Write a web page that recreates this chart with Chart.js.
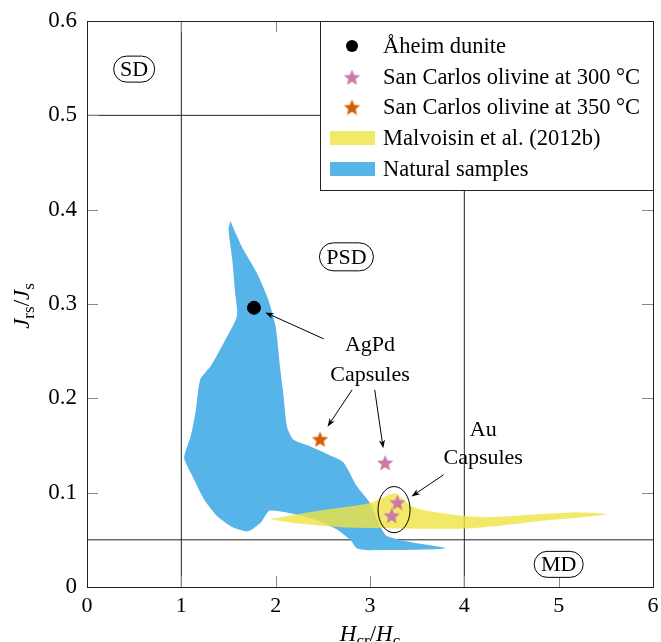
<!DOCTYPE html>
<html>
<head>
<meta charset="utf-8">
<script src="https://cdn.jsdelivr.net/npm/chart.js@4.4.1/dist/chart.umd.min.js"></script>
<style>
  html, body { margin: 0; padding: 0; background: #fff; }
  #wrap { width: 661px; height: 642px; }
</style>
</head>
<body>
<div id="wrap"><canvas id="grafico"></canvas></div>
<script>
// ===== DADOS =====
const aheimDunite = [{ x: 1.77, y: 0.296 }];
const sanCarlos300 = [{ x: 3.16, y: 0.132 }, { x: 3.29, y: 0.090 }, { x: 3.23, y: 0.076 }];
const sanCarlos350 = [{ x: 2.47, y: 0.157 }];

// contorno do campo de Malvoisin et al. (2012b)
const malvoisinX = [1.94, 2.47, 3.00, 3.16, 3.27, 3.35, 3.45, 3.59, 3.85, 4.20, 4.91, 5.26, 5.51, 5.26, 4.91, 4.38, 3.99, 3.32, 2.76, 2.26, 2.05];
const malvoisinY = [0.072, 0.081, 0.089, 0.096, 0.099, 0.093, 0.085, 0.081, 0.077, 0.074, 0.078, 0.079, 0.077, 0.074, 0.071, 0.065, 0.062, 0.062, 0.063, 0.067, 0.070];

// contorno das amostras naturais
const naturalX = [1.52, 1.64, 1.80, 1.92, 2.00, 2.05, 2.08, 2.12, 2.19, 2.37, 2.61, 2.72, 2.86, 3.00, 3.18, 3.80, 2.97, 2.86, 2.79, 2.65, 2.37, 1.94, 1.84, 1.71, 1.55, 1.38, 1.24, 1.10, 1.03, 1.10, 1.15, 1.20, 1.31, 1.45, 1.59, 1.57, 1.54, 1.50];
const naturalY = [0.388, 0.361, 0.333, 0.305, 0.276, 0.230, 0.206, 0.170, 0.156, 0.149, 0.138, 0.132, 0.107, 0.089, 0.054, 0.041, 0.039, 0.041, 0.050, 0.061, 0.073, 0.081, 0.068, 0.059, 0.063, 0.075, 0.093, 0.121, 0.137, 0.160, 0.185, 0.220, 0.234, 0.259, 0.287, 0.312, 0.347, 0.379];

// linhas que separam os domínios SD / PSD / MD
const linhasVerticais = [1, 4];
const linhasHorizontais = [0.05, 0.5];

const xTicks = [0, 1, 2, 3, 4, 5, 6];
const xTickLabels = ['0', '1', '2', '3', '4', '5', '6'];
const yTicks = [0, 0.1, 0.2, 0.3, 0.4, 0.5, 0.6];
const yTickLabels = ['0', '0.1', '0.2', '0.3', '0.4', '0.5', '0.6'];

const legendLabels = ['Åheim dunite', 'San Carlos olivine at 300 °C', 'San Carlos olivine at 350 °C', 'Malvoisin et al. (2012b)', 'Natural samples'];

// ===== CORES / FONTES =====
const AZUL = '#56B4E9';
const AMARELO = 'rgba(240, 228, 66, 0.8)';
const ROSA = '#CC79A7';
const LARANJA = '#D55E00';
const FONTE = '"Liberation Serif", "Times New Roman", serif';

function fecha(xs, ys) {
    const pts = xs.map((x, i) => ({ x: x, y: ys[i] }));
    pts.push(pts[0]);
    return pts;
}

// estrela cheia (o 'star' do Chart.js é só contorno)
function estrela(cor, r) {
    const c = document.createElement('canvas');
    const s = Math.ceil(r * 2 + 2);
    c.width = s; c.height = s;
    const g = c.getContext('2d');
    g.fillStyle = cor;
    g.beginPath();
    for (let i = 0; i < 10; i++) {
        const rad = i % 2 === 0 ? r : r * 0.45;
        const a = -Math.PI / 2 + i * Math.PI / 5;
        g.lineTo(s / 2 + rad * Math.cos(a), s / 2 + 1 + rad * Math.sin(a));
    }
    g.closePath();
    g.fill();
    return c;
}
const estrelaRosa = estrela(ROSA, 8.5);
const estrelaLaranja = estrela(LARANJA, 8.5);

// texto com índices (H_cr / H_c)
function textoRico(ctx, partes, x, y, size) {
    const fonteDe = p => (p[1] === 'i' ? 'italic ' : '') + (p[1] === 's' ? Math.round(size * 0.72) : size) + 'px ' + FONTE;
    let w = 0;
    partes.forEach(p => { ctx.font = fonteDe(p); w += ctx.measureText(p[0]).width; });
    let cx = x - w / 2;
    ctx.textAlign = 'left';
    ctx.textBaseline = 'alphabetic';
    partes.forEach(p => {
        ctx.font = fonteDe(p);
        ctx.fillText(p[0], cx, p[1] === 's' ? y + size * 0.2 : y);
        cx += ctx.measureText(p[0]).width;
    });
}

function caixaRotulo(ctx, txt, cx, cy, w, h) {
    ctx.save();
    ctx.beginPath();
    ctx.roundRect(cx - w / 2, cy - h / 2, w, h, h / 2);
    ctx.fillStyle = '#fff';
    ctx.fill();
    ctx.strokeStyle = '#000';
    ctx.lineWidth = 1;
    ctx.stroke();
    ctx.fillStyle = '#000';
    ctx.font = '22px ' + FONTE;
    ctx.textAlign = 'center';
    ctx.textBaseline = 'middle';
    ctx.fillText(txt, cx, cy + 1);
    ctx.restore();
}

function seta(ctx, x1, y1, x2, y2) {
    const a = Math.atan2(y2 - y1, x2 - x1);
    ctx.beginPath();
    ctx.moveTo(x1, y1);
    ctx.lineTo(x2 - 5 * Math.cos(a), y2 - 5 * Math.sin(a));
    ctx.stroke();
    ctx.beginPath();
    ctx.moveTo(x2, y2);
    ctx.lineTo(x2 - 9 * Math.cos(a - 0.35), y2 - 9 * Math.sin(a - 0.35));
    ctx.lineTo(x2 - 6 * Math.cos(a), y2 - 6 * Math.sin(a));
    ctx.lineTo(x2 - 9 * Math.cos(a + 0.35), y2 - 9 * Math.sin(a + 0.35));
    ctx.closePath();
    ctx.fill();
}

// anotações (em coordenadas de dados)
const setas = [
    [2.51, 0.263, 1.89, 0.291],
    [2.81, 0.209, 2.55, 0.170],
    [3.05, 0.209, 3.14, 0.147],
    [3.78, 0.119, 3.44, 0.096]
];
const textos = [
    ['AgPd', 3.00, 0.256], ['Capsules', 3.00, 0.225],
    ['Au', 4.20, 0.166], ['Capsules', 4.20, 0.137]
];
const rotulos = [
    ['SD', 0.50, 0.549, 41, 26], ['PSD', 2.75, 0.350, 54, 28], ['MD', 5.00, 0.024, 49, 26]
];

const anotacoes = {
    id: 'anotacoes',
    afterDatasetsDraw(chart) {
        const ctx = chart.ctx;
        const xs = chart.scales.x, ys = chart.scales.y;
        const a = chart.chartArea;
        ctx.save();

        // moldura e ticks para dentro
        ctx.strokeStyle = '#888';
        ctx.lineWidth = 1;
        xTicks.forEach(v => {
            const px = Math.round(xs.getPixelForValue(v)) + 0.5;
            ctx.beginPath();
            ctx.moveTo(px, a.bottom); ctx.lineTo(px, a.bottom - 11);
            ctx.moveTo(px, a.top); ctx.lineTo(px, a.top + 11);
            ctx.stroke();
        });
        yTicks.forEach(v => {
            const py = Math.round(ys.getPixelForValue(v)) + 0.5;
            ctx.beginPath();
            ctx.moveTo(a.left, py); ctx.lineTo(a.left + 11, py);
            ctx.moveTo(a.right, py); ctx.lineTo(a.right - 11, py);
            ctx.stroke();
        });
        ctx.strokeStyle = '#222';
        ctx.strokeRect(Math.round(a.left) + 0.5, Math.round(a.top) + 0.5, Math.round(a.right - a.left), Math.round(a.bottom - a.top));

        // setas
        ctx.strokeStyle = '#000';
        ctx.fillStyle = '#000';
        ctx.lineWidth = 1;
        setas.forEach(s => seta(ctx, xs.getPixelForValue(s[0]), ys.getPixelForValue(s[1]), xs.getPixelForValue(s[2]), ys.getPixelForValue(s[3])));

        // elipse em volta das cápsulas de Au
        const ex = xs.getPixelForValue(3.255), ey = ys.getPixelForValue(0.082);
        ctx.beginPath();
        ctx.ellipse(ex, ey, xs.getPixelForValue(3.255 + 0.17) - ex, ey - ys.getPixelForValue(0.082 + 0.0245), 0, 0, Math.PI * 2);
        ctx.stroke();

        ctx.font = '22px ' + FONTE;
        ctx.textAlign = 'center';
        ctx.textBaseline = 'middle';
        textos.forEach(t => ctx.fillText(t[0], xs.getPixelForValue(t[1]), ys.getPixelForValue(t[2])));

        rotulos.forEach(r => caixaRotulo(ctx, r[0], xs.getPixelForValue(r[1]), ys.getPixelForValue(r[2]), r[3], r[4]));

        // títulos dos eixos
        ctx.fillStyle = '#000';
        textoRico(ctx, [['H', 'i'], ['cr', 's'], ['/', 'r'], ['H', 'i'], ['c', 's']], xs.getPixelForValue(3), 641, 23);
        ctx.save();
        ctx.translate(29, (a.top + a.bottom) / 2 + 2);
        ctx.rotate(-Math.PI / 2);
        textoRico(ctx, [['J', 'i'], ['rs', 's'], ['/', 'r'], ['J', 'i'], ['s', 's']], 0, 0, 23);
        ctx.restore();

        // ===== legenda =====
        const lx = 320, ly = a.top, lw = a.right - 320, lh = 169;
        ctx.fillStyle = '#fff';
        ctx.fillRect(lx, ly, lw, lh);
        ctx.strokeStyle = '#222';
        ctx.strokeRect(lx + 0.5, Math.round(ly) + 0.5, Math.round(lw), lh);

        const linhaY = [46, 77, 107, 138, 169];
        ctx.fillStyle = '#000';
        ctx.beginPath();
        ctx.arc(352, linhaY[0], 6, 0, Math.PI * 2);
        ctx.fill();
        ctx.drawImage(estrelaRosa, 352 - estrelaRosa.width / 2, linhaY[1] - estrelaRosa.height / 2);
        ctx.drawImage(estrelaLaranja, 352 - estrelaLaranja.width / 2, linhaY[2] - estrelaLaranja.height / 2);
        ctx.fillStyle = AMARELO;
        ctx.fillRect(330, linhaY[3] - 7, 45, 14);
        ctx.fillStyle = AZUL;
        ctx.fillRect(330, linhaY[4] - 7, 45, 14);

        ctx.fillStyle = '#000';
        ctx.font = '22.5px ' + FONTE;
        ctx.textAlign = 'left';
        ctx.textBaseline = 'middle';
        legendLabels.forEach((t, i) => ctx.fillText(t, 383, linhaY[i] + 1));

        ctx.restore();
    }
};

// ===== datasets =====
const datasets = [];
linhasVerticais.forEach(v => datasets.push({
    data: [{ x: v, y: 0 }, { x: v, y: 0.6 }],
    showLine: true, borderColor: '#222', borderWidth: 1, pointRadius: 0, order: 10
}));
linhasHorizontais.forEach(v => datasets.push({
    data: [{ x: 0, y: v }, { x: 6, y: v }],
    showLine: true, borderColor: '#222', borderWidth: 1, pointRadius: 0, order: 10
}));
datasets.push({
    label: legendLabels[4],
    data: fecha(naturalX, naturalY),
    showLine: true, fill: 'shape', tension: 0.2,
    backgroundColor: AZUL, borderColor: AZUL, borderWidth: 0, pointRadius: 0, order: 6
});
datasets.push({
    label: legendLabels[3],
    data: fecha(malvoisinX, malvoisinY),
    showLine: true, fill: 'shape', tension: 0.3,
    backgroundColor: AMARELO, borderColor: 'rgba(0,0,0,0)', borderWidth: 0, pointRadius: 0, order: 5
});
datasets.push({
    label: legendLabels[0], data: aheimDunite,
    pointStyle: 'circle', pointRadius: 6.5, backgroundColor: '#000', borderColor: '#000', order: 1
});
datasets.push({
    label: legendLabels[1], data: sanCarlos300,
    pointStyle: estrelaRosa, order: 1
});
datasets.push({
    label: legendLabels[2], data: sanCarlos350,
    pointStyle: estrelaLaranja, order: 1
});

const ctx = document.getElementById('grafico').getContext('2d');
const grafico = new Chart(ctx, {
    type: 'scatter',
    data: { datasets: datasets },
    options: {
        responsive: true,
        maintainAspectRatio: false,
        animation: false,
        devicePixelRatio: 1,
        layout: { padding: { top: 21, right: 8, left: 0, bottom: 0 } },
        plugins: {
            legend: { display: false },
            tooltip: { enabled: false }
        },
        scales: {
            x: {
                type: 'linear', min: 0, max: 6,
                afterBuildTicks: s => { s.ticks = xTicks.map(v => ({ value: v })); },
                afterFit: s => { s.height = 55; s.paddingLeft = 0; s.paddingRight = 0; },
                ticks: {
                    callback: (v, i) => xTickLabels[i],
                    color: '#000', padding: 6,
                    font: { family: FONTE, size: 22 }
                },
                grid: { display: false, drawTicks: false },
                border: { display: false }
            },
            y: {
                type: 'linear', min: 0, max: 0.6,
                afterBuildTicks: s => { s.ticks = yTicks.map(v => ({ value: v })); },
                afterFit: s => { s.width = 87; s.paddingTop = 0; s.paddingBottom = 0; },
                ticks: {
                    callback: (v, i) => yTickLabels[i],
                    color: '#000', padding: 10,
                    font: { family: FONTE, size: 23 }
                },
                grid: { display: false, drawTicks: false },
                border: { display: false }
            }
        }
    },
    plugins: [anotacoes]
});
</script>
</body>
</html>
